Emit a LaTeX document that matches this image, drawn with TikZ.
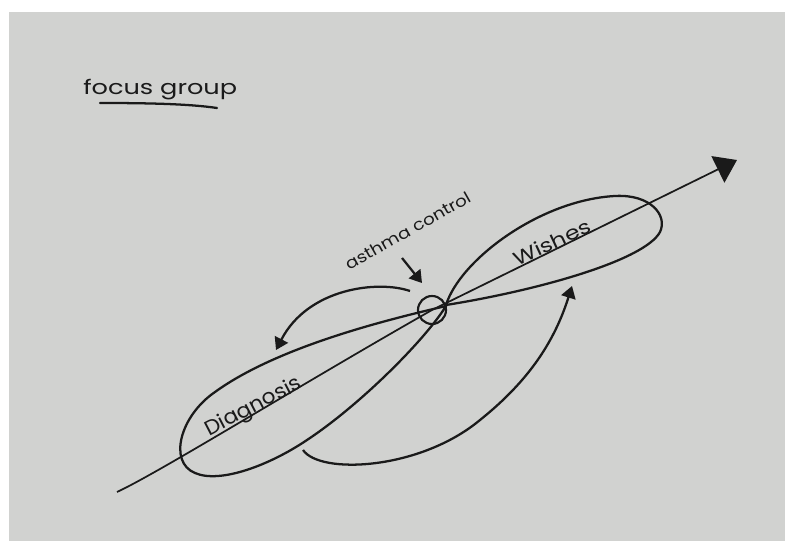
\documentclass[tikz,border=0pt]{standalone}
\usepackage{fontspec}
\setmainfont{Poppins}
\usetikzlibrary{arrows.meta}
\definecolor{ink}{RGB}{26,26,26}
\definecolor{paper}{RGB}{209,210,208}

\begin{document}
\begin{tikzpicture}[x=0.75pt,y=0.75pt,yscale=-1,xscale=1,
    hand/.style={inner sep=0pt, color=ink, font=\fontsize{#1}{#1}\selectfont},
    lobe/.style={draw=ink, line width=1.7pt},
    flow/.style={draw=ink, line width=1.7pt, -{Triangle[width=11pt,length=9pt]}}]
        \useasboundingbox (0,0) rectangle (785,541);

        %Paper
        \fill [white] (0,0) rectangle (785,541);
        \fill [paper] (9,12) rectangle (785,541);

        % Text Node
        \node [hand=15, anchor=base west] (title) at (83,95) {\scalebox{1.28}[1]{focus group}};
        %Underline
        \draw [ink, line width=1.7pt, line cap=round] (100,103) .. controls (150,103) and (190,104) .. (217,108);

        %Knot
        \node [draw=ink, line width=1.6pt, circle, minimum size=21pt, inner sep=0pt] (knot) at (432,310) {};

        %Shape: Diagnosis lobe
        \draw [lobe] (446,306) .. controls (395,318) and (280,345) .. (215,392) .. controls (180,416) and (168,462) .. (195,473) .. controls (220,484) and (270,465) .. (307,440) .. controls (360,405) and (425,340) .. cycle;
        %Shape: Wishes lobe
        \draw [lobe] (446,305) .. controls (460,260) and (540,200) .. (615,196) .. controls (650,194) and (668,215) .. (660,232) .. controls (645,260) and (540,290) .. cycle;

        %Axis
        \coordinate (axisStart) at (117,492);
        \coordinate (axisEnd) at (737,160);
        \draw [ink, line width=1.3pt, -{Triangle[width=22pt,length=16pt]}] (axisStart) .. controls (160,472) and (300,385) .. (knot.center) -- (axisEnd);

        % Text Node
        \node [hand=15.5, anchor=base, rotate=27.5] (diagText) at (256,412) {\scalebox{1.05}[1]{Diagnosis}};
        % Text Node
        \node [hand=14.5, anchor=base, rotate=25] (wishText) at (555,249) {\scalebox{1.22}[1]{Wishes}};
        % Text Node
        \node [hand=12, anchor=base, rotate=29.5] (asthmaText) at (411,236) {\scalebox{1.15}[1]{asthma control}};

        %Arrows
        \coordinate (labelFoot) at (402,258);
        \coordinate (knotTop) at (422,283);
        \draw [flow] (labelFoot) -- (knotTop);

        \coordinate (loopStart) at (410,291);
        \coordinate (diagTop) at (276,350);
        \draw [flow] (loopStart) .. controls (378,280) and (308,288) .. (diagTop);

        \coordinate (diagBase) at (303,450);
        \coordinate (wishBase) at (572,286);
        \draw [flow] (diagBase) .. controls (320,475) and (420,470) .. (480,420) .. controls (530,380) and (555,340) .. (wishBase);

    \end{tikzpicture}
\end{document}
